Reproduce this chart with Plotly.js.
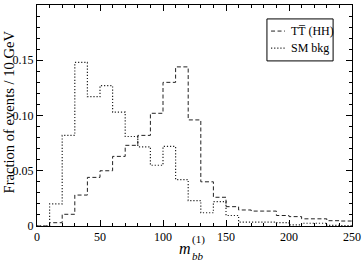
<!DOCTYPE html>
<html><head><meta charset="utf-8">
<script src="https://cdn.plot.ly/plotly-3.0.1.min.js"></script>
<style>body{margin:0;background:#fff}#c{width:362px;height:262px}</style>
</head><body><div id="c"></div>
<script>
// bin edges (GeV), 10 GeV bins from 0 to 250
var binEdges = [0,10,20,30,40,50,60,70,80,90,100,110,120,130,140,150,160,170,180,190,200,210,220,230,240,250];
// signal: TT(HH)
var signalVals = [0,0.003,0.0106,0.028,0.044,0.050,0.063,0.073,0.082,0.102,0.130,0.144,0.096,0.040,0.026,0.0175,0.0145,0.0135,0.0135,0.0095,0.0085,0.0065,0.0065,0.0048,0.0045];
// SM background
var bkgVals = [0,0.020,0.082,0.148,0.117,0.127,0.103,0.081,0.0716,0.055,0.072,0.042,0.023,0.012,0.022,0.0095,0.0035,0.0035,0.0035,0.003,0.001,0.0025,0.0025,0.0005,0.0003];
var seriesNames = ['TT\u0305 (HH)', 'SM bkg'];
var yTickVals = [0,0.05,0.10,0.15,0.20];
var yTickText = ['0','0.05','0.10','0.15','0.20'];
var xTickVals = [0,50,100,150,200,250];

function stepY(v){ return v.concat([v[v.length-1]]); }

var serif = 'Liberation Serif, Times New Roman, serif';
var dashSig = '4px,2.5px', dashBkg = '1.2px,1.9px', lineCol = '#222';
var traces = [
  {x: binEdges, y: stepY(signalVals), mode:'lines', line:{shape:'hv', color:lineCol, width:1, dash:dashSig}, name:seriesNames[0], showlegend:false},
  {x: binEdges, y: stepY(bkgVals), mode:'lines', line:{shape:'hv', color:lineCol, width:1.2, dash:dashBkg}, name:seriesNames[1], showlegend:false}
];
var axisCommon = {showline:true, linecolor:'#000', linewidth:1, mirror:'allticks', ticks:'inside', ticklen:6, tickcolor:'#000', showgrid:false, zeroline:false, tickfont:{family:serif, size:12, color:'#000'}};

// legend (drawn as a framed box with samples)
var lg = {x0:0.730, x1:0.940, y0:0.747, y1:0.937, sx0:0.743, sx1:0.787, tx:0.800, rows:[0.882, 0.805]};
var shapes = [
  {type:'rect', xref:'paper', yref:'paper', x0:lg.x0, x1:lg.x1, y0:lg.y0, y1:lg.y1, line:{color:'#000', width:1}, fillcolor:'#fff', layer:'above'},
  {type:'line', xref:'paper', yref:'paper', x0:lg.sx0, x1:lg.sx1, y0:lg.rows[0], y1:lg.rows[0], line:{color:lineCol, width:1, dash:dashSig}},
  {type:'line', xref:'paper', yref:'paper', x0:lg.sx0, x1:lg.sx1, y0:lg.rows[1], y1:lg.rows[1], line:{color:lineCol, width:1.2, dash:dashBkg}}
];
var annotations = [
  {xref:'paper', yref:'paper', x:lg.tx, y:lg.rows[0], xanchor:'left', yanchor:'middle', text:seriesNames[0], showarrow:false, font:{family:serif, size:12, color:'#000'}},
  {xref:'paper', yref:'paper', x:lg.tx, y:lg.rows[1], xanchor:'left', yanchor:'middle', text:seriesNames[1], showarrow:false, font:{family:serif, size:12, color:'#000'}},
  // y-axis title
  {xref:'paper', yref:'paper', x:-0.089, y:0.518, xanchor:'center', yanchor:'middle', textangle:-90, text:'Fraction of events / 10 GeV', showarrow:false, font:{family:serif, size:14.6, color:'#000'}},
  // x-axis title m_bb^(1)
  {xref:'paper', yref:'paper', x:0.4952, y:-0.104, xanchor:'right', yanchor:'middle', text:'<i>m</i>', showarrow:false, font:{family:serif, size:16, color:'#000'}},
  {xref:'paper', yref:'paper', x:0.4873, y:-0.136, xanchor:'left', yanchor:'middle', text:'<i>bb</i>', showarrow:false, font:{family:serif, size:11, color:'#000'}},
  {xref:'paper', yref:'paper', x:0.4873, y:-0.060, xanchor:'left', yanchor:'middle', text:'(1)', showarrow:false, font:{family:serif, size:11, color:'#000'}}
];
var layout = {
  width:362, height:262, margin:{l:37, r:10, t:5, b:36},
  paper_bgcolor:'#fff', plot_bgcolor:'#fff', font:{family:serif, color:'#000'},
  xaxis: Object.assign({}, axisCommon, {range:[0,250], tickvals:xTickVals, ticktext:xTickVals.map(String), minor:{dtick:10, tick0:0, ticks:'inside', ticklen:3, tickcolor:'#000', showgrid:false}}),
  yaxis: Object.assign({}, axisCommon, {range:[0,0.2], tickvals:yTickVals, ticktext:yTickText, minor:{dtick:0.01, tick0:0, ticks:'inside', ticklen:3, tickcolor:'#000', showgrid:false}}),
  showlegend:false, shapes:shapes, annotations:annotations
};
Plotly.newPlot('c', traces, layout, {displayModeBar:false, staticPlot:true});
</script></body></html>
